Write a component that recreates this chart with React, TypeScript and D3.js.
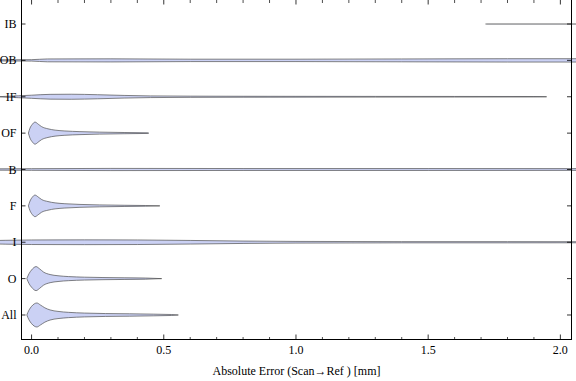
import React from 'react';
import * as d3 from 'd3';

// categories top -> bottom
const categories = ['IB', 'OB', 'IF', 'OF', 'B', 'F', 'I', 'O', 'All'];

// violin outlines: [abs error mm, relative density]
const densityIB = [[1.717, 0], [1.72, 0.01], [2.3, 0.01]];
const densityOB = [[-0.2, 0.04], [0.0, 0.06], [0.06, 0.12], [0.3, 0.13], [0.6, 0.1], [1.0, 0.1], [1.4, 0.12], [1.8, 0.14], [2.1, 0.14], [2.3, 0.1]];
const densityIF = [[-0.13, 0], [-0.05, 0.08], [0.0, 0.13], [0.07, 0.2], [0.15, 0.21], [0.25, 0.17], [0.35, 0.11], [0.45, 0.07], [0.6, 0.05], [0.8, 0.04], [1.0, 0.035], [1.3, 0.03], [1.6, 0.025], [1.9, 0.02], [1.948, 0]];
const densityOF = [[-0.012, 0], [-0.006, 0.42], [0.002, 0.71], [0.013, 0.92], [0.025, 0.75], [0.038, 0.54], [0.062, 0.36], [0.089, 0.25], [0.126, 0.18], [0.183, 0.125], [0.258, 0.083], [0.353, 0.05], [0.44, 0.025], [0.443, 0]];
const densityB = [[-0.2, 0.05], [0.0, 0.07], [0.3, 0.09], [0.8, 0.08], [1.5, 0.08], [2.3, 0.07]];
const densityF = [[-0.012, 0], [-0.006, 0.4], [0.002, 0.7], [0.013, 0.9], [0.025, 0.74], [0.038, 0.53], [0.062, 0.36], [0.089, 0.25], [0.126, 0.18], [0.183, 0.12], [0.258, 0.08], [0.35, 0.05], [0.43, 0.03], [0.485, 0]];
const densityI = [[-0.2, 0.12], [-0.1, 0.16], [0.0, 0.19], [0.2, 0.2], [0.4, 0.19], [0.6, 0.15], [0.8, 0.1], [1.0, 0.07], [1.4, 0.05], [1.8, 0.05], [2.3, 0.04]];
const densityO = [[-0.018, 0], [-0.01, 0.4], [0.0, 0.72], [0.017, 1.0], [0.03, 0.82], [0.045, 0.55], [0.07, 0.34], [0.1, 0.24], [0.14, 0.17], [0.2, 0.12], [0.27, 0.09], [0.35, 0.07], [0.43, 0.05], [0.492, 0]];
const densityAll = [[-0.018, 0], [-0.01, 0.4], [0.0, 0.72], [0.02, 1.0], [0.033, 0.84], [0.05, 0.6], [0.07, 0.42], [0.1, 0.3], [0.14, 0.22], [0.2, 0.16], [0.28, 0.12], [0.37, 0.1], [0.46, 0.07], [0.53, 0.04], [0.555, 0]];

const majorTicks = [0, 0.5, 1, 1.5, 2];
const xLabel = 'Absolute Error (Scan\u2192Ref ) [mm]';

const violins = {
  IB: densityIB, OB: densityOB, IF: densityIF, OF: densityOF, B: densityB,
  F: densityF, I: densityI, O: densityO, All: densityAll
};

const W = 576, H = 381;
const left = 21, right = 572, top = -1, bottom = 340;
const font = '"Liberation Serif", "DejaVu Serif", serif';

export default function App() {
  const x = d3.scaleLinear().domain([-0.04, 2.044]).range([left, right]);
  const y = d3.scalePoint().domain(categories).range([top, bottom]).padding(0.6875);
  const w = d3.scaleLinear().domain([0, 1]).range([0, 12]);

  const minorTicks = x.ticks(20).filter(t => !majorTicks.some(m => Math.abs(m - t) < 1e-6));

  const area = (cat) => d3.area()
    .x(d => x(d[0]))
    .y0(d => y(cat) - w(d[1]))
    .y1(d => y(cat) + w(d[1]))
    .curve(d3.curveMonotoneX);

  return (
    <svg width={W} height={H} style={{ position: 'absolute', left: 0, top: 0, background: '#fff' }}>
      {/* violins */}
      {categories.map(c => (
        <path key={c} d={area(c)(violins[c])} fill="#cbd1f4" stroke={c === 'IB' ? '#777' : '#4a4a4a'}
          strokeWidth={0.8} strokeOpacity={0.85} strokeLinejoin="round" />
      ))}

      {/* frame */}
      <rect x={left + 0.5} y={top + 0.5} width={right - left - 1} height={bottom - top - 1}
        fill="none" stroke="#000" strokeWidth={1} />

      {/* x ticks, bottom and top */}
      {majorTicks.map(t => (
        <g key={'M' + t}>
          <line x1={x(t)} x2={x(t)} y1={bottom} y2={bottom - 5.5} stroke="#000" strokeWidth={0.8} />
          <line x1={x(t)} x2={x(t)} y1={top} y2={top + 5.5} stroke="#000" strokeWidth={0.8} />
          <text x={x(t)} y={354} textAnchor="middle" fontFamily={font} fontSize={12}>{t.toFixed(1)}</text>
        </g>
      ))}
      {minorTicks.map(t => (
        <g key={'m' + t}>
          <line x1={x(t)} x2={x(t)} y1={bottom} y2={bottom - 3} stroke="#000" strokeWidth={0.7} />
          <line x1={x(t)} x2={x(t)} y1={top} y2={top + 4} stroke="#000" strokeWidth={0.7} />
        </g>
      ))}

      {/* y ticks and category labels */}
      {categories.map(c => (
        <g key={'t' + c}>
          <line x1={left} x2={left + 4.5} y1={y(c)} y2={y(c)} stroke="#000" strokeWidth={0.8} />
          <line x1={right - 5} x2={right} y1={y(c)} y2={y(c)} stroke="#000" strokeWidth={0.8} />
          <text x={16.5} y={y(c) + 4} textAnchor="end" fontFamily={font} fontSize={12}>{c}</text>
        </g>
      ))}

      <text x={(left + right) / 2} y={375} textAnchor="middle" fontFamily={font} fontSize={12}>{xLabel}</text>
    </svg>
  );
}
